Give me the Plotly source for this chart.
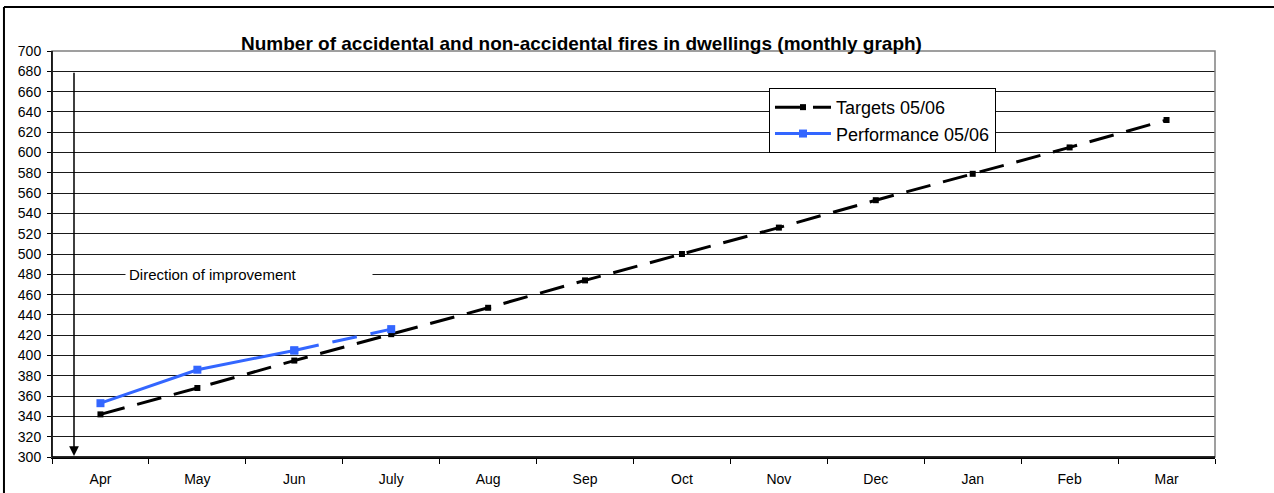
import plotly.graph_objects as go

# Monthly figures for 2005/06
months = ["Apr", "May", "Jun", "July", "Aug", "Sep", "Oct", "Nov", "Dec", "Jan", "Feb", "Mar"]
targets = [342, 368, 395, 421, 447, 474, 500, 526, 553, 579, 605, 632]
performance = [353, 386, 405, 426]

title_text = "Number of accidental and non-accidental fires in dwellings (monthly graph)"
direction_text = "Direction of improvement"

FONT = "Liberation Sans, Arial, sans-serif"
BLUE = "#3366FF"

fig = go.Figure()

fig.add_trace(go.Scatter(
    x=months, y=targets, name="Targets 05/06", mode="lines+markers",
    line=dict(color="black", width=3, dash="25px,13px"),
    marker=dict(symbol="square", size=6, color="black"),
))

# performance: confirmed months solid, latest month dashed
fig.add_trace(go.Scatter(
    x=months[:3], y=performance[:3], name="Performance 05/06", mode="lines+markers",
    line=dict(color=BLUE, width=3),
    marker=dict(symbol="square", size=8, color=BLUE),
))
fig.add_trace(go.Scatter(
    x=months[2:4], y=performance[2:4], showlegend=False, mode="lines+markers",
    line=dict(color=BLUE, width=3, dash="25px,14px"),
    marker=dict(symbol="square", size=8, color=BLUE),
))

fig.update_layout(
    width=1274, height=493,
    margin=dict(l=52, r=59, t=51, b=36, autoexpand=False),
    paper_bgcolor="white", plot_bgcolor="white",
    font=dict(family=FONT, size=14, color="black"),
    showlegend=True,
    legend=dict(
        x=0.6165, y=0.909, xanchor="left", yanchor="top",
        bgcolor="white", bordercolor="black", borderwidth=1,
        font=dict(family=FONT, size=18, color="black"),
        tracegroupgap=0, itemwidth=56,
    ),
    xaxis=dict(
        type="category", range=[-0.5, 11.5], automargin=False,
        showgrid=False, showline=True, linecolor="black", linewidth=1.5,
        ticks="outside", tickson="boundaries", ticklen=5, tickcolor="black",
        ticklabelstandoff=8,
        tickfont=dict(size=14), fixedrange=True,
    ),
    yaxis=dict(
        range=[300, 700], dtick=20, tick0=300, automargin=False,
        showgrid=True, gridcolor="#1a1a1a", gridwidth=1,
        showline=True, linecolor="black", linewidth=1,
        ticks="outside", ticklen=4, tickcolor="black",
        ticklabelstandoff=3,
        tickfont=dict(size=14), zeroline=False, fixedrange=True,
    ),
)

# plot-area border
fig.add_shape(type="rect", xref="paper", yref="paper", x0=0, x1=1, y0=0, y1=1,
              line=dict(color="#808080", width=1.5), layer="above")
fig.add_shape(type="line", xref="paper", yref="paper", x0=0, x1=0, y0=0, y1=1,
              line=dict(color="black", width=1.5), layer="above")
fig.add_shape(type="line", xref="paper", yref="paper", x0=0, x1=1, y0=0, y1=0,
              line=dict(color="black", width=1.5), layer="above")
# outer chart frame (left and top edges)
fig.add_shape(type="line", xref="paper", yref="paper", x0=-0.0413, x1=-0.0413, y0=-0.2, y1=1.1084,
              line=dict(color="black", width=2), layer="above")
fig.add_shape(type="line", xref="paper", yref="paper", x0=-0.0413, x1=1.06, y0=1.1084, y1=1.1084,
              line=dict(color="black", width=2), layer="above")

# title
fig.add_annotation(text="<b>" + title_text + "</b>", xref="paper", yref="paper",
                   x=0.4553, y=1.0197, xanchor="center", yanchor="middle",
                   showarrow=False, font=dict(family=FONT, size=19, color="black"))

# direction-of-improvement arrow
fig.add_annotation(x=-0.273, y=301, ax=-0.273, ay=680, xref="x", yref="y",
                   axref="x", ayref="y", text="", showarrow=True,
                   arrowhead=2, arrowsize=1.3, arrowwidth=1.5, arrowcolor="black")
fig.add_annotation(text=direction_text, xref="x", yref="y", x=1.533, y=480,
                   xanchor="center", yanchor="middle", showarrow=False,
                   width=240, align="left", bgcolor="white", borderpad=3,
                   font=dict(family=FONT, size=15, color="black"))

fig.write_html("out.html")
